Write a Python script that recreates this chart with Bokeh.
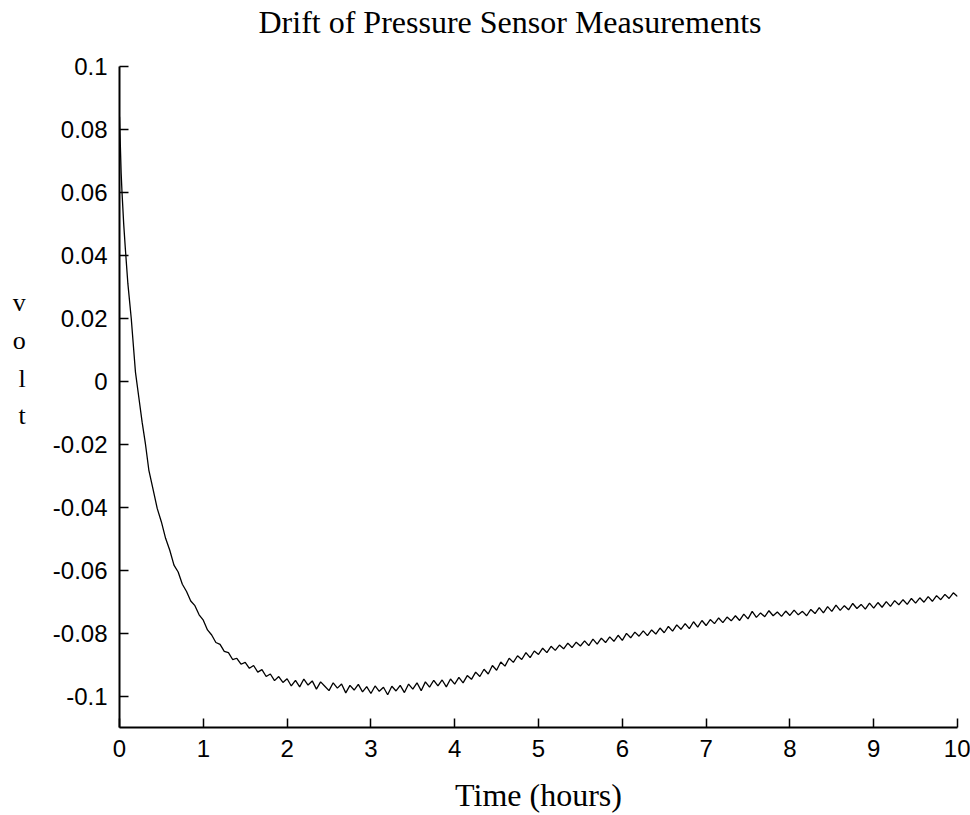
import numpy as np
from bokeh.plotting import figure
from bokeh.models import Range1d, FixedTicker, CustomJSTickFormatter, Title
from bokeh.embed import file_html
from bokeh.resources import INLINE

# ---- data ----
early_hours = [0.0, 0.01, 0.02, 0.03, 0.05, 0.07, 0.10, 0.14, 0.19, 0.23, 0.27, 0.31]
early_volts = [0.084, 0.075, 0.066, 0.060, 0.050, 0.042, 0.031, 0.020, 0.003, -0.005, -0.013, -0.020]

# readings every 0.05 h from 0.35 h to 10.00 h
drift_start = 0.35
drift_step = 0.05
drift_volts = [
    -0.0282, -0.0343, -0.0404, -0.0447, -0.0499, -0.0537, -0.0584, -0.0606, -0.0645, -0.0668,
    -0.0698, -0.0713, -0.0742, -0.0759, -0.0790, -0.0806, -0.0830, -0.0836, -0.0858, -0.0862,
    -0.0884, -0.0880, -0.0899, -0.0893, -0.0912, -0.0903, -0.0924, -0.0916, -0.0938, -0.0930,
    -0.0951, -0.0938, -0.0957, -0.0945, -0.0968, -0.0950, -0.0971, -0.0946, -0.0965, -0.0952,
    -0.0978, -0.0955, -0.0969, -0.0983, -0.0958, -0.0975, -0.0962, -0.0990, -0.0966, -0.0981,
    -0.0963, -0.0987, -0.0970, -0.0992, -0.0968, -0.0985, -0.0972, -0.0996, -0.0969, -0.0984,
    -0.0966, -0.0989, -0.0962, -0.0978, -0.0958, -0.0983, -0.0955, -0.0972, -0.0950, -0.0968,
    -0.0949, -0.0971, -0.0946, -0.0962, -0.0941, -0.0958, -0.0935, -0.0947, -0.0924, -0.0938,
    -0.0915, -0.0930, -0.0903, -0.0918, -0.0892, -0.0905, -0.0880, -0.0893, -0.0872, -0.0884,
    -0.0862, -0.0878, -0.0857, -0.0868, -0.0848, -0.0862, -0.0842, -0.0855, -0.0838, -0.0850,
    -0.0832, -0.0846, -0.0829, -0.0841, -0.0825, -0.0840, -0.0819, -0.0835, -0.0816, -0.0830,
    -0.0812, -0.0826, -0.0807, -0.0823, -0.0801, -0.0815, -0.0797, -0.0810, -0.0793, -0.0808,
    -0.0790, -0.0803, -0.0784, -0.0799, -0.0779, -0.0794, -0.0774, -0.0788, -0.0770, -0.0786,
    -0.0764, -0.0781, -0.0760, -0.0776, -0.0757, -0.0770, -0.0752, -0.0767, -0.0749, -0.0761,
    -0.0745, -0.0760, -0.0740, -0.0755, -0.0731, -0.0750, -0.0736, -0.0748, -0.0729, -0.0745,
    -0.0733, -0.0747, -0.0730, -0.0744, -0.0727, -0.0742, -0.0731, -0.0745, -0.0725, -0.0738,
    -0.0719, -0.0736, -0.0716, -0.0731, -0.0711, -0.0728, -0.0713, -0.0726, -0.0706, -0.0722,
    -0.0709, -0.0724, -0.0705, -0.0721, -0.0703, -0.0718, -0.0700, -0.0715, -0.0697, -0.0710,
    -0.0694, -0.0709, -0.0690, -0.0705, -0.0688, -0.0702, -0.0684, -0.0699, -0.0681, -0.0694,
    -0.0677, -0.0690, -0.0672, -0.0684,
]

x_ticks = [0, 1, 2, 3, 4, 5, 6, 7, 8, 9, 10]
y_ticks = [-0.1, -0.08, -0.06, -0.04, -0.02, 0, 0.02, 0.04, 0.06, 0.08, 0.1]

title_text = "Drift of Pressure Sensor Measurements"
x_label_text = "Time (hours)"
y_label_text = "v\no\nl\nt\n \n "   # two trailing blank lines lift the letters

hours = early_hours + [round(drift_start + drift_step * i, 2) for i in range(len(drift_volts))]
volts = early_volts + drift_volts

SERIF = "Liberation Serif"
SANS = "Liberation Sans"

p = figure(width=970, height=815, output_backend="svg", toolbar_location=None,
           x_range=Range1d(0, 10), y_range=Range1d(-0.11, 0.1),
           min_border_left=119, min_border_right=13, min_border_top=66, min_border_bottom=88,
           background_fill_color="white", border_fill_color="white")

p.line(hours, volts, line_color="black", line_width=1.3)

# blank spacer between title and plot area
p.add_layout(Title(text=" ", text_font_size="2px", standoff=23), "above")

p.title.text = title_text
p.title.text_font = SERIF
p.title.text_font_size = "32px"
p.title.text_font_style = "normal"
p.title.text_color = "black"
p.title.align = "left"
p.title.offset = 139
p.title.standoff = 0

p.outline_line_color = None
p.grid.visible = False

for ax in (p.xaxis[0], p.yaxis[0]):
    ax.axis_line_color = "black"
    ax.axis_line_width = 2
    ax.major_tick_line_color = "black"
    ax.major_tick_line_width = 1.5
    ax.major_tick_in = 9
    ax.major_tick_out = 0
    ax.minor_tick_line_color = None
    ax.major_label_text_font = SANS
    ax.major_label_text_font_size = "24px"
    ax.major_label_text_color = "black"
    ax.major_label_standoff = 12
    ax.axis_label_text_font = SERIF
    ax.axis_label_text_font_style = "normal"
    ax.axis_label_text_color = "black"

p.xaxis.ticker = FixedTicker(ticks=x_ticks)
p.yaxis.ticker = FixedTicker(ticks=y_ticks)
p.yaxis.formatter = CustomJSTickFormatter(code="return String(Math.round(tick*100)/100);")

p.xaxis.axis_label = x_label_text
p.xaxis.axis_label_text_font_size = "32px"
p.xaxis.axis_label_standoff = 17

p.yaxis.axis_label = y_label_text
p.yaxis.axis_label_orientation = "horizontal"
p.yaxis.axis_label_text_font_size = "26px"
p.yaxis.axis_label_text_line_height = 1.31
p.yaxis.axis_label_standoff = 24

open("out.html", "w").write(file_html(p, INLINE))
